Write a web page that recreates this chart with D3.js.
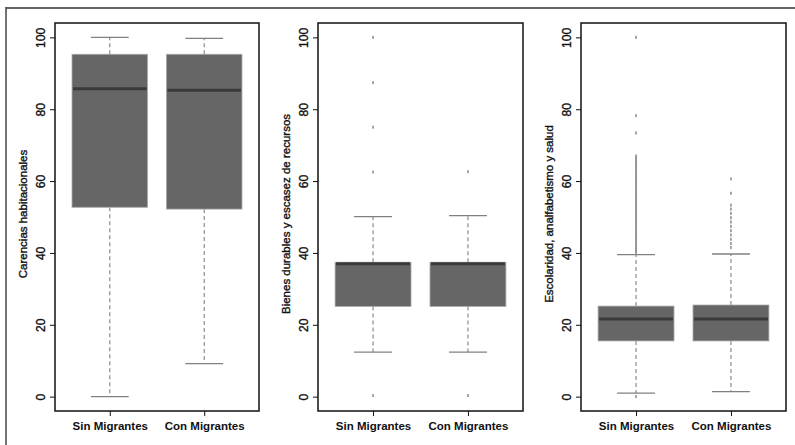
<!DOCTYPE html>
<html>
<head>
<meta charset="utf-8">
<script src="https://cdn.jsdelivr.net/npm/d3@7"></script>
<style>
  body { margin:0; background:#fff; }
  text { font-family: "Liberation Sans", Arial, sans-serif; }
</style>
</head>
<body>
<script>
// groups and panel titles
var groups = ["Sin Migrantes", "Con Migrantes"];
var titles = ["Carencias habitacionales",
              "Bienes durables y escasez de recursos",
              "Escolaridad, analfabetismo y salud"];
var yTicks = [0, 20, 40, 60, 80, 100];

// box stats per panel: [lowWhisker, q1, median, q3, highWhisker] for Sin, Con
var stats1 = [[0, 52.7, 85.7, 95.3, 100], [9.2, 52.2, 85.3, 95.3, 99.7]];
var stats2 = [[12.4, 25.1, 37.0, 37.4, 50.1], [12.4, 25.1, 37.0, 37.4, 50.4]];
var stats3 = [[1.0, 15.5, 21.6, 25.2, 39.5], [1.4, 15.5, 21.6, 25.5, 39.7]];

// outliers per panel, Sin then Con
var out1 = [[], []];
var out2 = [[100, 87.4, 75.0, 62.5, 0.3], [62.6, 0.3]];
var out3 = [
  [100, 78.2, 73.4, 67.0, 66.5, 66.0, 65.5, 65.0, 64.5, 64.0, 63.5, 63.0, 62.5, 62.0,
   61.5, 61.0, 60.5, 60.0, 59.5, 59.0, 58.5, 58.0, 57.5, 57.0, 56.5, 56.0, 55.5, 55.0,
   54.5, 54.0, 53.5, 53.0, 52.5, 52.0, 51.5, 51.0, 50.5, 50.0, 49.5, 49.0, 48.5, 48.0,
   47.5, 47.0, 46.5, 46.0, 45.5, 45.0, 44.5, 44.0, 43.5, 43.0, 42.5, 42.0, 41.5, 41.0,
   40.5, 40.0, 0],
  [60.6, 56.6, 53.3, 52.2, 51.0, 49.8, 48.6, 47.4, 46.2, 45.0, 43.8, 42.6, 41.5]
];

var panels = [
  {left:55,  right:259, title:titles[0], stats:stats1, out:out1},
  {left:318, right:523, title:titles[1], stats:stats2, out:out2},
  {left:581, right:786, title:titles[2], stats:stats3, out:out3}
];

var svg = d3.select("body").append("svg")
  .attr("width", 795).attr("height", 445);

// outer frame (top and left only visible)
svg.append("line").attr("x1",6).attr("x2",795).attr("y1",8).attr("y2",8)
  .attr("stroke","#666").attr("stroke-width",2);
svg.append("line").attr("x1",6).attr("x2",6).attr("y1",7).attr("y2",445)
  .attr("stroke","#444").attr("stroke-width",1.5);

var plotTop = 23, plotBottom = 411;

panels.forEach(function(p){
  var x = d3.scaleLinear().domain([0.42, 2.58]).range([p.left, p.right]);
  var y = d3.scaleLinear().domain([-4, 104]).range([plotBottom, plotTop]);
  var g = svg.append("g");
  var bw = x(1.4) - x(1);   // half box width

  p.stats.forEach(function(s, i){
    var cx = x(i + 1);
    // whiskers
    g.append("line").attr("x1",cx).attr("x2",cx).attr("y1",y(s[3])).attr("y2",y(s[4]))
      .attr("stroke","#808080").attr("stroke-width",1.1).attr("stroke-dasharray","4,3");
    g.append("line").attr("x1",cx).attr("x2",cx).attr("y1",y(s[1])).attr("y2",y(s[0]))
      .attr("stroke","#808080").attr("stroke-width",1.1).attr("stroke-dasharray","4,3");
    // caps
    [s[0], s[4]].forEach(function(v){
      g.append("line").attr("x1",cx - bw/2).attr("x2",cx + bw/2)
        .attr("y1",y(v)).attr("y2",y(v))
        .attr("stroke","#808080").attr("stroke-width",1.3);
    });
    // outliers
    g.selectAll(null).data(p.out[i]).enter().append("rect")
      .attr("x", cx - 0.75).attr("width",1.5)
      .attr("y", function(d){ return y(d) - 1.5; }).attr("height",3)
      .attr("fill","#888");
    // box
    g.append("rect").attr("x",cx - bw).attr("width",2*bw)
      .attr("y",y(s[3])).attr("height",y(s[1]) - y(s[3]))
      .attr("fill","#666").attr("stroke","#aaa").attr("stroke-width",0.8);
    // median
    g.append("line").attr("x1",cx - bw + 1).attr("x2",cx + bw - 1)
      .attr("y1",y(s[2])).attr("y2",y(s[2]))
      .attr("stroke","#3a3a3a").attr("stroke-width",3);
  });

  // plot frame
  g.append("rect").attr("x",p.left).attr("y",plotTop)
    .attr("width",p.right - p.left).attr("height",plotBottom - plotTop)
    .attr("fill","none").attr("stroke","#111").attr("stroke-width",1.5);

  // y axis
  var ya = g.append("g").attr("transform","translate(" + p.left + ",0)")
    .call(d3.axisLeft(y).tickValues(yTicks).tickSize(5).tickFormat(d3.format("d")));
  ya.select(".domain").remove();
  ya.selectAll("line").attr("stroke","#111");
  ya.selectAll("text")
    .attr("transform","rotate(-90)")
    .attr("x",0).attr("y",-10).attr("dy",0)
    .attr("text-anchor","middle")
    .attr("font-size","12px").attr("font-family","Liberation Sans, Arial, sans-serif")
    .attr("fill","#111").attr("stroke","#111").attr("stroke-width",0.35);

  // x axis
  var xa = g.append("g").attr("transform","translate(0," + plotBottom + ")")
    .call(d3.axisBottom(x).tickValues([1, 2]).tickSize(5)
      .tickFormat(function(d){ return groups[d - 1]; }));
  xa.select(".domain").remove();
  xa.selectAll("line").attr("stroke","#111");
  xa.selectAll("text")
    .attr("y",19).attr("dy",0)
    .attr("font-size","11.5px").attr("font-weight","bold")
    .attr("font-family","Liberation Sans, Arial, sans-serif")
    .attr("fill","#111");

  // axis title
  g.append("text")
    .attr("transform","translate(" + (p.left - 28) + "," + ((plotTop + plotBottom)/2 - 3) + ") rotate(-90)")
    .attr("text-anchor","middle")
    .attr("font-size","11.5px")
    .attr("fill","#111").attr("stroke","#111").attr("stroke-width",0.35)
    .text(p.title);
});
</script>
</body>
</html>
